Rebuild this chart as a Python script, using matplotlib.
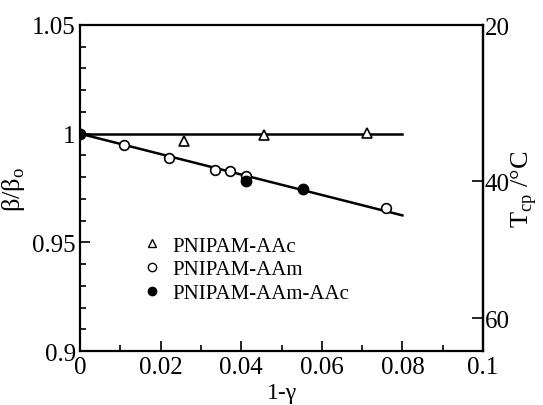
import numpy as np
import matplotlib
matplotlib.use("Agg")
import matplotlib.pyplot as plt
from matplotlib.ticker import MultipleLocator, FixedLocator, FuncFormatter

plt.rcParams['font.family'] = ['Liberation Serif', 'DejaVu Serif']
plt.rcParams['mathtext.fontset'] = 'custom'
plt.rcParams['mathtext.rm'] = 'Liberation Serif'

# data
x_aac = [0.0257, 0.0457, 0.0712]
y_aac = [0.9968, 0.9994, 1.0003]

x_aam = [0.0108, 0.0220, 0.0334, 0.0372, 0.0413, 0.0759]
y_aam = [0.9948, 0.9887, 0.9834, 0.9827, 0.9807, 0.9657]

x_aamaac = [0.0, 0.0413, 0.0553]
y_aamaac = [1.0, 0.9784, 0.9745]

t_ticks = [20, 40, 60]


def t_to_beta(t):
    # right axis follows 1/T (K)
    t = np.asarray(t, dtype=float)
    return 1.05 - 329.6 * (1.0 / 293.15 - 1.0 / (t + 273.15))


def beta_to_t(b):
    b = np.asarray(b, dtype=float)
    return 1.0 / (1.0 / 293.15 - (1.05 - b) / 329.6) - 273.15


fig = plt.figure(figsize=(5.43, 4.06), dpi=100)
ax = fig.add_axes([80 / 543, 1 - 352 / 406, 403 / 543, 326 / 406])

# fitted lines
xfit = np.array([0.0, 0.08])
ax.plot(xfit, [1.0, 1.0], color='black', lw=1.8, zorder=1)
xa = np.array(x_aam + x_aamaac)
ya = np.array(y_aam + y_aamaac)
slope = np.sum(xa * (ya - 1.0)) / np.sum(xa * xa)
ax.plot(xfit, 1.0 + slope * xfit, color='black', lw=1.8, zorder=1)

ax.plot(x_aac, y_aac, ls='none', marker='^', ms=7, mfc='white', mec='black', mew=1.2, zorder=3)
ax.plot(x_aam, y_aam, ls='none', marker='o', ms=7, mfc='white', mec='black', mew=1.2, zorder=3)
ax.plot(x_aamaac, y_aamaac, ls='none', marker='o', ms=7.5, mfc='black', mec='black', zorder=4)

ax.set_xlim(0, 0.1)
ax.set_ylim(0.9, 1.05)
ax.xaxis.set_major_locator(MultipleLocator(0.02))
ax.xaxis.set_minor_locator(MultipleLocator(0.01))
ax.yaxis.set_major_locator(MultipleLocator(0.05))
ax.yaxis.set_minor_locator(MultipleLocator(0.01))
ax.xaxis.set_major_formatter(FuncFormatter(lambda v, p: '%g' % round(v, 3)))
ax.yaxis.set_major_formatter(FuncFormatter(lambda v, p: '%g' % round(v, 3)))
ax.tick_params(which='both', direction='in', top=False, right=False, labelsize=18, width=1.2)
ax.tick_params(which='major', length=7)
ax.tick_params(which='minor', length=4)
ax.tick_params(axis='y', pad=3)
for s in ax.spines.values():
    s.set_linewidth(1.6)

ax.set_xlabel('1-γ', fontsize=17, labelpad=3)
ax.set_ylabel('β/β$_{\\rm o}$', fontsize=19, labelpad=4)

sec = ax.secondary_yaxis('right', functions=(beta_to_t, t_to_beta))
sec.yaxis.set_major_locator(FixedLocator(t_ticks))
sec.yaxis.set_minor_locator(FixedLocator([]))
sec.tick_params(direction='in', labelsize=18, length=8, width=1.2, pad=1)
sec.spines['right'].set_linewidth(1.6)
sec.set_ylabel('T$_{\\rm cp}$ /°C', fontsize=19, labelpad=0)

# legend
h1, = ax.plot([], [], ls='none', marker='^', ms=6, mfc='white', mec='black')
h2, = ax.plot([], [], ls='none', marker='o', ms=6, mfc='white', mec='black')
h3, = ax.plot([], [], ls='none', marker='o', ms=6, mfc='black', mec='black')
ax.legend([h1, h2, h3], ['PNIPAM-AAc', 'PNIPAM-AAm', 'PNIPAM-AAm-AAc'],
          loc='upper left', bbox_to_anchor=(0.138, 0.378), frameon=False,
          fontsize=15, handlelength=0.8, handletextpad=0.55, labelspacing=0.2,
          borderaxespad=0)

fig.savefig('out.png', dpi=100)
